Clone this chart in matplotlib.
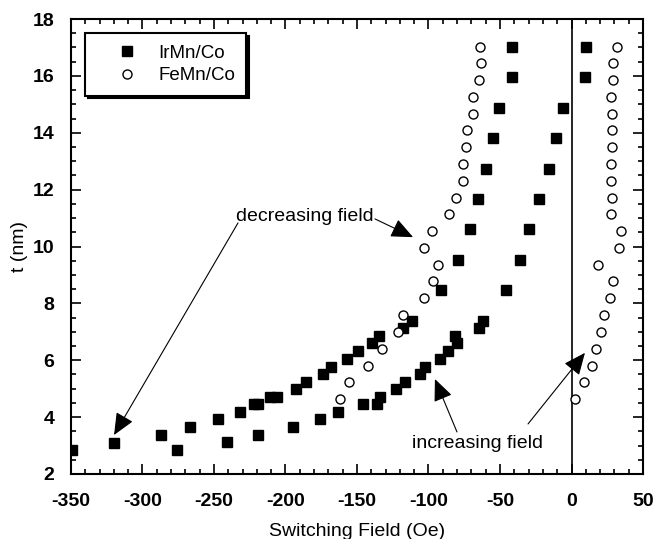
import matplotlib
matplotlib.use("Agg")
import matplotlib.pyplot as plt
from matplotlib.ticker import MultipleLocator

plt.rcParams['font.family'] = ['Liberation Sans', 'DejaVu Sans']
plt.rcParams['axes.unicode_minus'] = False

# IrMn/Co - Zweig bei abnehmendem Feld (links)
irmn_dec_t = [2.85, 3.10, 3.38, 3.66, 3.92, 4.19, 4.46, 4.46, 4.72, 4.72, 4.99, 5.25,
              5.53, 5.78, 6.05, 6.33, 6.60, 6.85, 7.12, 7.39, 8.47, 9.53, 10.60,
              11.67, 12.74, 13.81, 14.87, 15.95, 17.03]
irmn_dec_x = [-349.5, -320, -287, -266.5, -247, -232, -222, -219, -210.8, -206.2, -193,
              -186, -173.6, -168, -156.8, -149.6, -139.7, -134.5, -117.6, -111.2, -91.3,
              -79.2, -71, -65.6, -59.8, -54.7, -50.7, -41.4, -41.4]

# IrMn/Co - Zweig bei zunehmendem Feld (rechts)
irmn_inc_t = [2.85, 3.12, 3.38, 3.66, 3.92, 4.19, 4.46, 4.46, 4.72, 4.99, 5.25, 5.53,
              5.78, 6.05, 6.33, 6.60, 6.85, 7.12, 7.39, 8.47, 9.53, 10.60, 11.67,
              12.74, 13.81, 14.87, 15.95, 17.03]
irmn_inc_x = [-276, -241, -219, -195, -176, -163, -146, -136, -133.7, -122.5, -116.4,
              -105.7, -102.4, -92, -86.4, -80.3, -81.6, -64.5, -62, -46, -36, -29.5,
              -22.9, -15.5, -11, -5.7, 9.4, 10.1]

# FeMn/Co - beide Zweige
femn_t = [4.64, 5.23, 5.81, 6.41, 7.00, 7.59, 8.18, 8.78, 9.35, 9.95, 10.54, 11.13,
          11.72, 12.30, 12.90, 13.49, 14.09, 14.66, 15.25, 15.84, 16.44, 17.03]
femn_dec_x = [-162.1, -155.4, -142.5, -132.5, -121.1, -117.6, -103.1, -96.6, -93.1,
              -103.1, -97.3, -85.7, -80.6, -76.1, -76.1, -74.0, -72.9, -68.7, -68.7,
              -64.5, -63.1, -63.8]
femn_inc_x = [2.4, 9.0, 14.1, 16.9, 20.6, 22.9, 26.9, 28.8, 18.3, 33.4, 34.4, 27.4,
              28.1, 27.4, 27.6, 28.1, 28.5, 28.1, 27.6, 29.2, 28.8, 32.0]

fig = plt.figure(figsize=(6.53, 5.39), dpi=100)
ax = fig.add_axes([0.1087, 0.1206, 0.8760, 0.8441])

ax.axvline(0, color='black', lw=1.2, zorder=1)

sq = dict(marker='s', ls='none', ms=7.5, mfc='black', mec='black', zorder=3)
ci = dict(marker='o', ls='none', ms=6.5, mfc='white', mec='black', mew=1.0, zorder=3)

ax.plot(irmn_dec_x, irmn_dec_t, label='IrMn/Co', **sq)
ax.plot(irmn_inc_x, irmn_inc_t, **sq)
ax.plot(femn_dec_x, femn_t, label='FeMn/Co', **ci)
ax.plot(femn_inc_x, femn_t, **ci)

ax.set_xlim(-350, 50)
ax.set_ylim(2, 18)
ax.xaxis.set_major_locator(MultipleLocator(50))
ax.xaxis.set_minor_locator(MultipleLocator(10))
ax.yaxis.set_major_locator(MultipleLocator(2))
ax.yaxis.set_minor_locator(MultipleLocator(0.5))
ax.tick_params(which='both', direction='in', top=True, right=True, width=1.2)
ax.tick_params(which='major', length=7, labelsize=14)
ax.tick_params(which='minor', length=3.5)
ax.tick_params(axis='x', which='major', pad=14)
ax.tick_params(axis='y', which='major', pad=12)
for lab in ax.get_xticklabels() + ax.get_yticklabels():
    lab.set_fontweight('bold')
for s in ax.spines.values():
    s.set_linewidth(1.5)

ax.set_xlabel('Switching Field (Oe)', fontsize=14, labelpad=9)
ax.set_ylabel('t (nm)', fontsize=14, labelpad=3)

# Pfeile und Beschriftungen
arr = dict(arrowstyle='-|>,head_length=0.8,head_width=0.35', color='black', lw=0.8,
           mutation_scale=17, shrinkA=0, shrinkB=0)
ax.text(-186.3, 11.04, 'decreasing field', fontsize=14, ha='center', va='center')
ax.annotate('', xy=(-110.8, 10.33), xytext=(-137.4, 10.97), arrowprops=arr)
ax.annotate('', xy=(-319.9, 3.37), xytext=(-233.2, 10.83), arrowprops=arr)

ax.text(-65.4, 3.09, 'increasing field', fontsize=14, ha='center', va='center')
ax.annotate('', xy=(-95.5, 5.34), xytext=(-80.1, 3.48), arrowprops=arr)
ax.annotate('', xy=(9.4, 6.26), xytext=(-30.4, 3.76), arrowprops=arr)

leg = ax.legend(loc='upper left', bbox_to_anchor=(0.0245, 0.969), borderaxespad=0,
                fontsize=13.5, fancybox=False, framealpha=1, edgecolor='black',
                borderpad=0.6, handlelength=3.3, handletextpad=0.0, labelspacing=0.3,
                shadow={'color': 'black', 'alpha': 1})
leg.get_frame().set_linewidth(1.5)

fig.savefig('out.png', dpi=100)
